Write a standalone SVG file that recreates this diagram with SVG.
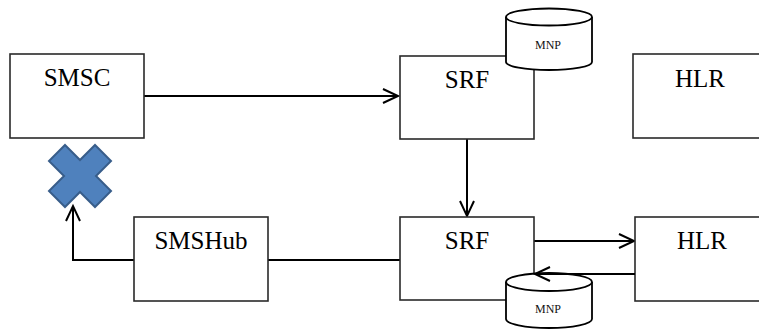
<svg xmlns="http://www.w3.org/2000/svg" width="759" height="329" viewBox="0 0 759 329">
<style>
.box{fill:#fff;stroke:#2a2a2a;stroke-width:1.6}
.lbl{font-family:"Liberation Serif","Times New Roman",serif;font-size:25px;fill:#000;text-anchor:middle}
.small{font-family:"Liberation Serif","Times New Roman",serif;font-size:12px;fill:#111;text-anchor:middle}
.cyl{fill:#fff;stroke:#000;stroke-width:1.8}
.edge{fill:none;stroke:#000;stroke-width:2}
</style>
<defs>
<marker id="arr" markerUnits="userSpaceOnUse" markerWidth="20" markerHeight="20" refX="16" refY="8" orient="auto" viewBox="0 0 20 16">
<path d="M1,1 L16,8 L1,15" fill="none" stroke="#000" stroke-width="2"/>
</marker>
</defs>
<rect width="759" height="329" fill="#fff"/>
<g id="connectors">
<path class="edge" d="M144,96 H398" marker-end="url(#arr)"/>
<path class="edge" d="M467,139 V216" marker-end="url(#arr)"/>
<path class="edge" d="M534,241 H634" marker-end="url(#arr)"/>
<path class="edge" d="M268,260 H400"/>
<path class="edge" d="M134,260 H73 V206" marker-end="url(#arr)"/>
</g>
<g id="smsc"><rect class="box" x="10" y="54" width="134" height="84"/><text class="lbl" x="77" y="86">SMSC</text></g>
<g id="srf1"><rect class="box" x="400" y="56" width="134" height="83"/><text class="lbl" x="467" y="88">SRF</text></g>
<g id="hlr1"><rect class="box" x="633" y="54" width="134" height="84"/><text class="lbl" x="700" y="87">HLR</text></g>
<g id="smshub"><rect class="box" x="134" y="217" width="134" height="84"/><text class="lbl" x="201" y="249">SMSHub</text></g>
<g id="srf2"><rect class="box" x="400" y="217" width="134" height="83"/><text class="lbl" x="467" y="249">SRF</text></g>
<g id="hlr2"><rect class="box" x="635" y="217" width="134" height="84"/><text class="lbl" x="702" y="249">HLR</text></g>
<g id="mnp1">
<path class="cyl" d="M506,17 V62 A43,8 0 0 0 592,62 V17"/>
<ellipse class="cyl" cx="549" cy="17" rx="43" ry="8.5"/>
<text class="small" x="548" y="49">MNP</text>
</g>
<g id="mnp2">
<path class="cyl" d="M506,282 V319 A43,9 0 0 0 592,319 V282"/>
<ellipse class="cyl" cx="549" cy="282" rx="43" ry="9"/>
<text class="small" x="548" y="313">MNP</text>
</g>
<g id="reply">
<path class="edge" d="M635,274 H535" marker-end="url(#arr)"/>
</g>
<g id="blocked">
<polygon points="65,145 80,160 95,145 111,161 96,176 111,191 95,207 80,192 65,207 49,191 64,176 49,161" fill="#4f81bd" stroke="#385d8a" stroke-width="2" stroke-linejoin="miter"/>
</g>
</svg>
